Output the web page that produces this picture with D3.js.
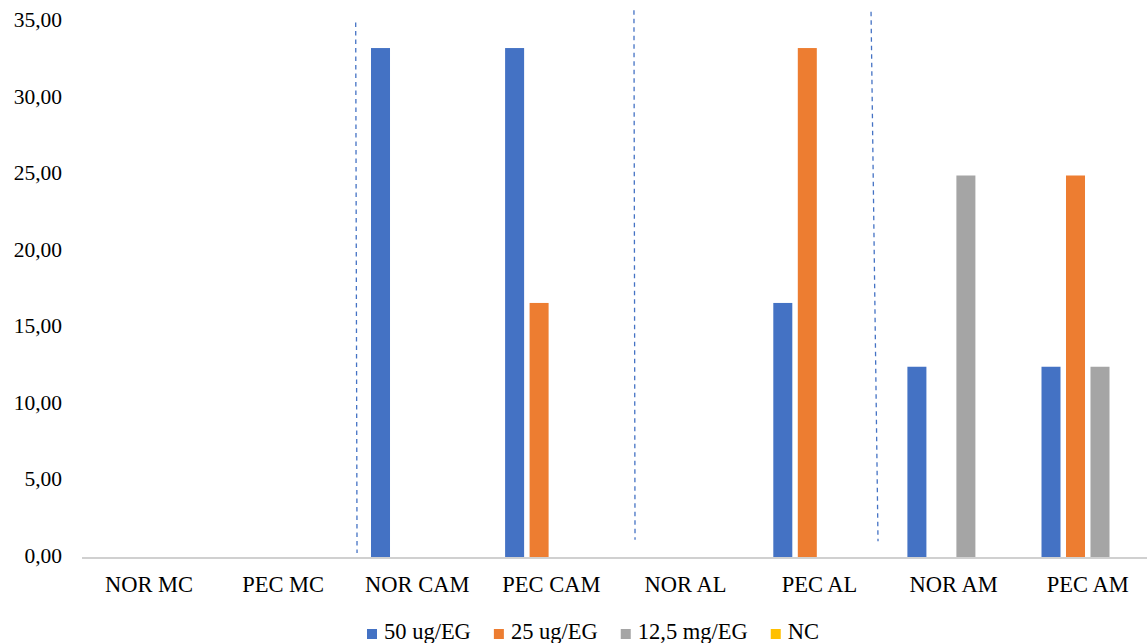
<!DOCTYPE html>
<html>
<head>
<meta charset="utf-8">
<script src="https://cdn.jsdelivr.net/npm/d3@7"></script>
<style>
  html, body { margin: 0; padding: 0; background: #fff; }
  svg { display: block; }
  text { font-family: "Liberation Serif", "Times New Roman", serif; fill: #000; }
</style>
</head>
<body>
<svg id="chart" width="1147" height="643"></svg>
<script>
// ---- data ----
const categories = ["NOR MC", "PEC MC", "NOR CAM", "PEC CAM", "NOR AL", "PEC AL", "NOR AM", "PEC AM"];
const seriesNames = ["50 ug/EG", "25 ug/EG", "12,5 mg/EG", "NC"];
const seriesColors = ["#4472C4", "#ED7D31", "#A5A5A5", "#FFC000"];
const s50 = [0, 0, 33.33, 33.33, 0, 16.67, 12.5, 12.5];
const s25 = [0, 0, 0, 16.67, 0, 33.33, 0, 25];
const s125 = [0, 0, 0, 0, 0, 0, 25, 12.5];
const sNC = [0, 0, 0, 0, 0, 0, 0, 0];
const seriesValues = [s50, s25, s125, sNC];
const yTicks = [0, 5, 10, 15, 20, 25, 30, 35];
// hand-drawn dashed divider annotations (category index units, value units)
const dividers = [
  { i1: 2.041, v1: 35.0, i2: 2.051, v2: 0.33 },
  { i1: 4.116, v1: 35.8, i2: 4.124, v2: 1.2 },
  { i1: 5.884, v1: 35.7, i2: 5.936, v2: 1.1 }
];

// ---- layout ----
const svg = d3.select("#chart");
const plotLeft = 82, plotRight = 1154.8, plotTop = 22.5, plotBottom = 558;

const x0 = d3.scaleBand().domain(categories).range([plotLeft, plotRight]).paddingInner(0).paddingOuter(0);
const groupW = 92.5;
const x1 = d3.scaleBand().domain(seriesNames).range([-groupW / 2, groupW / 2]).paddingInner(0.224).paddingOuter(0);
const y = d3.scaleLinear().domain([0, 35]).range([plotBottom, plotTop]);
const xi = d3.scaleLinear().domain([0, categories.length]).range([plotLeft, plotRight]);

const fmt = v => d3.format(".2f")(v).replace(".", ",");

// y-axis tick labels
svg.append("g").selectAll("text").data(yTicks).join("text")
  .attr("x", 62).attr("y", d => y(d))
  .attr("text-anchor", "end").attr("dominant-baseline", "middle")
  .style("font-size", "21.5px")
  .text(fmt);

// bars
const rows = [];
seriesNames.forEach((s, si) => {
  categories.forEach((c, ci) => rows.push({ s, c, v: seriesValues[si][ci], color: seriesColors[si] }));
});
svg.append("g").selectAll("rect").data(rows.filter(d => d.v > 0)).join("rect")
  .attr("x", d => x0(d.c) + x0.bandwidth() / 2 + x1(d.s))
  .attr("width", x1.bandwidth())
  .attr("y", d => y(d.v))
  .attr("height", d => y(0) - y(d.v))
  .attr("fill", d => d.color);

// x axis line
svg.append("line")
  .attr("x1", plotLeft).attr("x2", plotRight)
  .attr("y1", y(0)).attr("y2", y(0))
  .attr("stroke", "#d0d0d0").attr("stroke-width", 2);

// category labels
svg.append("g").selectAll("text").data(categories).join("text")
  .attr("x", d => x0(d) + x0.bandwidth() / 2)
  .attr("y", 592)
  .attr("text-anchor", "middle")
  .style("font-size", "22.5px")
  .text(d => d);

// dashed dividers
svg.append("g").selectAll("line").data(dividers).join("line")
  .attr("x1", d => xi(d.i1)).attr("y1", d => y(d.v1))
  .attr("x2", d => xi(d.i2)).attr("y2", d => y(d.v2))
  .attr("stroke", "#4472C4").attr("stroke-width", 1.3)
  .attr("stroke-dasharray", "4.5,4");

// legend
const lg = svg.append("g");
const items = lg.selectAll("g").data(seriesNames).join("g");
items.append("rect").attr("width", 10).attr("height", 10).attr("y", 629)
  .attr("fill", (d, i) => seriesColors[i]);
items.append("text").attr("x", 17).attr("y", 639)
  .style("font-size", "22.5px").text(d => d);
let cx = 0;
const offs = [];
items.each(function () {
  offs.push(cx);
  const w = d3.select(this).select("text").node().getComputedTextLength();
  cx += 17 + w + 23;
});
const startX = 367;
items.attr("transform", (d, i) => `translate(${startX + offs[i]},0)`);
</script>
</body>
</html>
